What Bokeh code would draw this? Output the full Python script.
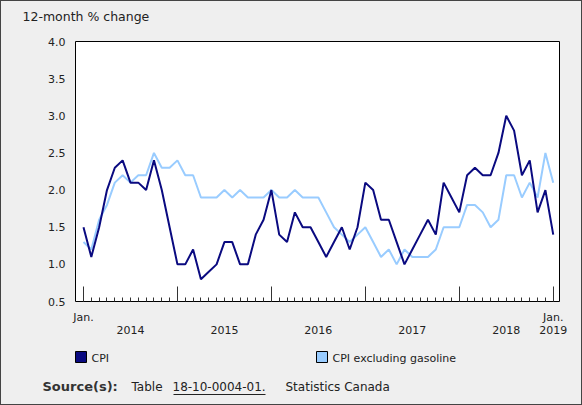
from bokeh.plotting import figure
from bokeh.models import (Range1d, FixedTicker, LinearAxis, ColumnDataSource,
                          Label, BoxAnnotation)
from bokeh.layouts import column
from bokeh.embed import file_html
from bokeh.resources import INLINE

# monthly, Jan. 2014 to Jan. 2019
cpi = [1.5, 1.1, 1.5, 2.0, 2.3, 2.4, 2.1, 2.1, 2.0, 2.4, 2.0, 1.5,
       1.0, 1.0, 1.2, 0.8, 0.9, 1.0, 1.3, 1.3, 1.0, 1.0, 1.4, 1.6,
       2.0, 1.4, 1.3, 1.7, 1.5, 1.5, 1.3, 1.1, 1.3, 1.5, 1.2, 1.5,
       2.1, 2.0, 1.6, 1.6, 1.3, 1.0, 1.2, 1.4, 1.6, 1.4, 2.1, 1.9,
       1.7, 2.2, 2.3, 2.2, 2.2, 2.5, 3.0, 2.8, 2.2, 2.4, 1.7, 2.0,
       1.4]
cpi_ex_gas = [1.3, 1.2, 1.6, 1.8, 2.1, 2.2, 2.1, 2.2, 2.2, 2.5, 2.3, 2.3,
              2.4, 2.2, 2.2, 1.9, 1.9, 1.9, 2.0, 1.9, 2.0, 1.9, 1.9, 1.9,
              2.0, 1.9, 1.9, 2.0, 1.9, 1.9, 1.9, 1.7, 1.5, 1.4, 1.3, 1.4,
              1.5, 1.3, 1.1, 1.2, 1.0, 1.2, 1.1, 1.1, 1.1, 1.2, 1.5, 1.5,
              1.5, 1.8, 1.8, 1.7, 1.5, 1.6, 2.2, 2.2, 1.9, 2.1, 1.9, 2.5,
              2.1]
months = list(range(len(cpi)))
year_labels = ["2014", "2015", "2016", "2017", "2018", "2019"]
year_pos = [6, 18, 30, 42, 54, 60]
jan_pos = [0, 12, 24, 36, 48, 60]
y_ticks = [0.5, 1.0, 1.5, 2.0, 2.5, 3.0, 3.5, 4.0]
series_names = ["CPI", "CPI excluding gasoline"]

DARK = "#0a0a80"
LIGHT = "#99ccff"
BG = "#efefef"
TXT = "#222222"
FONT = "DejaVu Sans"


def strip(h):
    # plain gray band, 1 data unit = 1 pixel
    s = figure(width=580, height=h, output_backend="svg", toolbar_location=None,
               x_range=Range1d(0, 580), y_range=Range1d(0, h),
               min_border_left=0, min_border_right=0, min_border_top=0,
               min_border_bottom=0, x_axis_type=None, y_axis_type=None)
    s.frame_align = False
    s.background_fill_color = BG
    s.border_fill_color = BG
    s.outline_line_color = None
    s.grid.grid_line_color = None
    return s


src = ColumnDataSource(dict(m=months, cpi=cpi, ex=cpi_ex_gas))

# ---- title strip
t = strip(28)
t.add_layout(Label(x=21, y=13, text="12-month % change", text_font=FONT,
                   text_font_size="12.5px", text_color=TXT, text_baseline="middle"))

# ---- main chart
p = figure(width=580, height=312, output_backend="svg", toolbar_location=None,
           x_range=Range1d(-1.02, 60.8), y_range=Range1d(0.5, 4.0),
           min_border_left=74, min_border_right=22, min_border_top=12,
           min_border_bottom=40, x_axis_type=None)
p.frame_align = False
p.background_fill_color = "white"
p.border_fill_color = BG
p.outline_line_color = "black"
p.grid.grid_line_color = None

p.yaxis.ticker = FixedTicker(ticks=y_ticks)
p.yaxis.axis_line_color = None
p.yaxis.major_tick_in = 0
p.yaxis.major_tick_out = 0
p.yaxis.minor_tick_line_color = None
p.yaxis.major_label_standoff = 10
p.yaxis.major_label_text_font = FONT
p.yaxis.major_label_text_font_size = "11px"
p.yaxis.major_label_text_color = TXT
p.yaxis.major_label_overrides = {t_: "%.1f" % t_ for t_ in y_ticks}

# month ticks and "Jan." labels
xa = LinearAxis(ticker=FixedTicker(ticks=jan_pos, minor_ticks=months))
xa.axis_line_color = None
xa.major_tick_in = 15
xa.major_tick_out = 0
xa.minor_tick_in = 4
xa.minor_tick_out = 0
xa.major_tick_line_color = "#333333"
xa.minor_tick_line_color = "#333333"
xa.major_label_standoff = 9
xa.major_label_text_font = FONT
xa.major_label_text_font_size = "11px"
xa.major_label_text_color = TXT
xa.major_label_overrides = {0: "Jan.", 12: "", 24: "", 36: "", 48: "", 60: "Jan."}
p.add_layout(xa, "below")

# year labels
ya = LinearAxis(ticker=FixedTicker(ticks=year_pos, minor_ticks=[]))
ya.axis_line_color = None
ya.major_tick_line_color = None
ya.major_tick_in = 0
ya.major_tick_out = 0
ya.major_label_standoff = -1
ya.major_label_text_font = FONT
ya.major_label_text_font_size = "11px"
ya.major_label_text_color = TXT
ya.major_label_overrides = dict(zip(year_pos, year_labels))
p.add_layout(ya, "below")

p.line("m", "ex", source=src, line_color=LIGHT, line_width=2)
p.line("m", "cpi", source=src, line_color=DARK, line_width=2)

# ---- legend and source strip
b = strip(63)
for name, color, x0 in zip(series_names, [DARK, LIGHT], [74, 315]):
    b.add_layout(BoxAnnotation(left=x0, right=x0 + 11, bottom=42, top=53,
                               fill_color=color, fill_alpha=1, line_color="black",
                               line_alpha=1, line_width=1))
    b.add_layout(Label(x=x0 + 16, y=46, text=name, text_font=FONT,
                       text_font_size="11px", text_color=TXT,
                       text_baseline="alphabetic"))

b.add_layout(Label(x=41, y=18, text="Source(s):", text_font=FONT, text_font_size="13px",
                   text_font_style="bold", text_color="#333333",
                   text_baseline="alphabetic"))
b.add_layout(Label(x=130, y=18, text="Table", text_font=FONT, text_font_size="12px",
                   text_color=TXT, text_baseline="alphabetic"))
b.add_layout(Label(x=171, y=18, text="18-10-0004-01.", text_font=FONT,
                   text_font_size="12px", text_color=TXT, text_baseline="alphabetic"))
b.add_layout(Label(x=284, y=18, text="Statistics Canada", text_font=FONT,
                   text_font_size="12px", text_color=TXT, text_baseline="alphabetic"))
b.add_layout(BoxAnnotation(left=172, right=264, bottom=9.5, top=10.5, fill_color=TXT,
                           fill_alpha=1, line_color=None))

layout = column(t, p, b, spacing=0,
                styles={"border": "1px solid #444444", "background-color": BG})

open("out.html", "w").write(file_html(layout, INLINE))
